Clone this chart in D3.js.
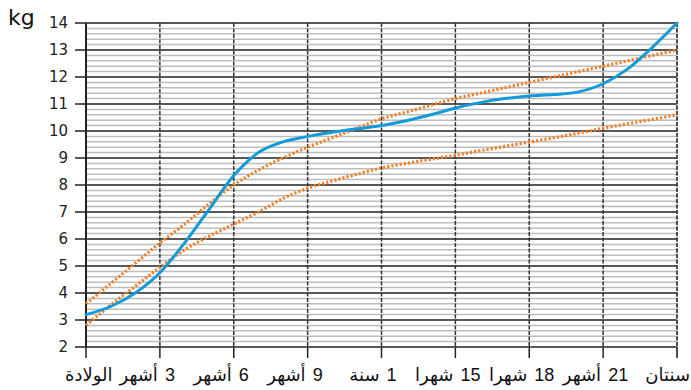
<!DOCTYPE html>
<html>
<head>
<meta charset="utf-8">
<script src="https://cdn.jsdelivr.net/npm/d3@7"></script>
<style>
  html, body { margin: 0; padding: 0; background: #fff; }
  svg { display: block; }
</style>
</head>
<body>
<svg id="chart" width="691" height="390"></svg>
<script>
// Age in months for each sample
const months = [0,1,2,3,4,5,6,7,8,9,10,11,12,13,14,15,16,17,18,19,20,21,22,23,24];
// Child's measured weight (kg)
const childWeight = [3.2,3.5,4.0,4.75,5.85,7.1,8.35,9.2,9.6,9.8,9.95,10.08,10.2,10.38,10.6,10.85,11.05,11.2,11.3,11.35,11.45,11.75,12.3,13.1,14.0];
// Upper reference curve (kg)
const upperRef = [3.6,4.35,5.1,5.85,6.55,7.3,8.0,8.55,9.0,9.4,9.75,10.1,10.45,10.7,10.95,11.2,11.4,11.6,11.8,12.0,12.2,12.4,12.6,12.8,13.0];
// Lower reference curve (kg)
const lowerRef = [2.8,3.55,4.25,4.95,5.6,6.1,6.55,7.0,7.5,7.88,8.15,8.4,8.63,8.8,8.95,9.1,9.27,9.43,9.59,9.75,9.92,10.1,10.27,10.43,10.6];

// Axis ticks and labels
const xTicks = [0,3,6,9,12,15,18,21,24];
const xTickNums = ["", "3", "6", "9", "1", "15", "18", "21", ""];
const xTickWords = ["الولادة", "أشهر", "أشهر", "أشهر", "سنة", "شهرا", "شهرا", "أشهر", "سنتان"];
const yTicks = [2,3,4,5,6,7,8,9,10,11,12,13,14];
const yUnit = "kg";

const svg = d3.select("#chart");
const plotL = 86, plotR = 677, plotT = 23, plotB = 347;

const x = d3.scaleLinear().domain([0, 24]).range([plotL, plotR]);
const y = d3.scaleLinear().domain([2, 14]).range([plotB, plotT]);

// Minor horizontal grid every 0.2 kg
const minor = d3.range(2, 14.001, 0.2).filter(v => Math.abs(v - Math.round(v)) > 0.01);
svg.append("g").selectAll("line").data(minor).join("line")
  .attr("x1", plotL).attr("x2", plotR)
  .attr("y1", d => y(d)).attr("y2", d => y(d))
  .attr("stroke", "#bdbdbd").attr("stroke-width", 1.5);

// Major horizontal grid + ticks on the left
svg.append("g").selectAll("line").data(yTicks).join("line")
  .attr("x1", plotL - 11).attr("x2", plotR)
  .attr("y1", d => y(d)).attr("y2", d => y(d))
  .attr("stroke", "#222").attr("stroke-width", 1.5);

// Vertical grid (dashed) with ticks below
svg.append("g").selectAll("line").data(xTicks.slice(1)).join("line")
  .attr("x1", d => x(d)).attr("x2", d => x(d))
  .attr("y1", plotT).attr("y2", plotB)
  .attr("stroke", "#333").attr("stroke-width", 1.5)
  .attr("stroke-dasharray", "4,1.5");
svg.append("g").selectAll("line").data(xTicks).join("line")
  .attr("x1", d => x(d)).attr("x2", d => x(d))
  .attr("y1", plotB).attr("y2", plotB + 11)
  .attr("stroke", "#222").attr("stroke-width", 1.5);

// Left axis line
svg.append("line")
  .attr("x1", plotL).attr("x2", plotL).attr("y1", plotT).attr("y2", plotB)
  .attr("stroke", "#222").attr("stroke-width", 2);

// Y tick labels
svg.append("g").selectAll("text").data(yTicks).join("text")
  .attr("x", 68).attr("y", d => y(d) + 5)
  .attr("text-anchor", "end")
  .attr("font-family", "DejaVu Sans, sans-serif")
  .attr("font-size", 15).attr("fill", "#222")
  .text(d => d);

svg.append("text")
  .attr("x", 8).attr("y", 25)
  .attr("font-family", "DejaVu Sans, sans-serif")
  .attr("font-size", 22).attr("fill", "#111")
  .text(yUnit);

// X tick labels: word to the left of the tick, number to the right
const xl = svg.append("g")
  .attr("font-family", "Liberation Sans, Arial, DejaVu Sans, sans-serif")
  .attr("font-size", 18).attr("fill", "#111");
xTicks.forEach((t, i) => {
  const px = x(t);
  const num = xTickNums[i], word = xTickWords[i];
  if (num) {
    xl.append("text").attr("x", px - 2).attr("y", 381)
      .attr("text-anchor", "end")
      .text(word);
    xl.append("text").attr("x", px + 5).attr("y", 381)
      .attr("text-anchor", "start").text(num);
  } else {
    const first = i === 0;
    xl.append("text").attr("x", first ? px - 21 : px + 13).attr("y", 381)
      .attr("text-anchor", first ? "start" : "end")
      .text(word);
  }
});

// Right border (dashed)
svg.append("line")
  .attr("x1", plotR).attr("x2", plotR).attr("y1", plotT).attr("y2", plotB + 11)
  .attr("stroke", "#444").attr("stroke-width", 1.5)
  .attr("stroke-dasharray", "4,1.5");

const line = d3.line().x((d, i) => x(months[i])).y(d => y(d)).curve(d3.curveMonotoneX);

svg.append("path").datum(lowerRef).attr("d", line)
  .attr("fill", "none").attr("stroke", "#f2802a").attr("stroke-width", 3.2)
  .attr("stroke-dasharray", "2.2,2");
svg.append("path").datum(upperRef).attr("d", line)
  .attr("fill", "none").attr("stroke", "#f2802a").attr("stroke-width", 3.2)
  .attr("stroke-dasharray", "2.2,2");
svg.append("path").datum(childWeight).attr("d", line)
  .attr("fill", "none").attr("stroke", "#139ad8").attr("stroke-width", 3)
  .attr("stroke-linecap", "round");
</script>
</body>
</html>
